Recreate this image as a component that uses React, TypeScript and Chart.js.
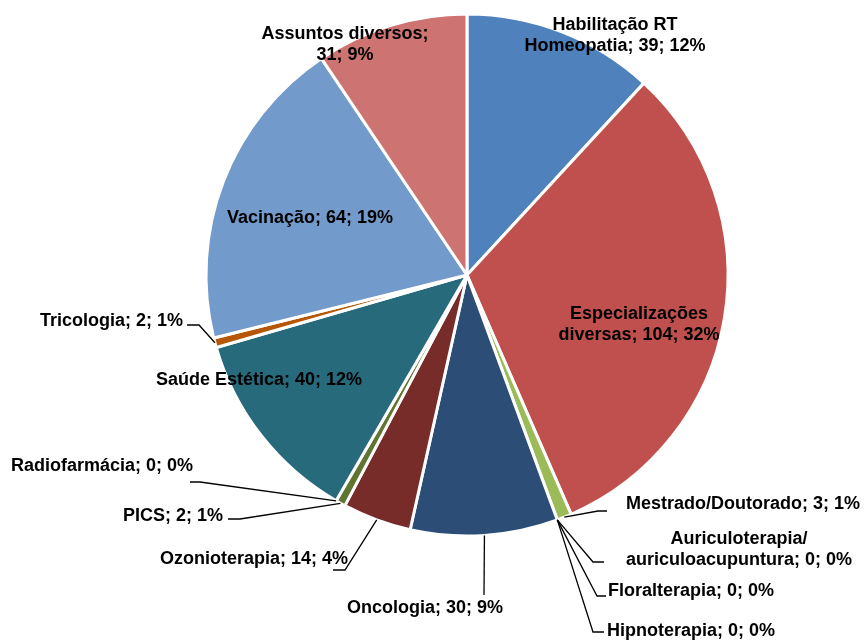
import React, { useEffect, useRef } from "react";
import { Chart, registerables } from "chart.js";

Chart.register(...registerables);

const categories = [
  "Habilitação RT Homeopatia",
  "Especializações diversas",
  "Mestrado/Doutorado",
  "Auriculoterapia/ auriculoacupuntura",
  "Floralterapia",
  "Hipnoterapia",
  "Oncologia",
  "Ozonioterapia",
  "PICS",
  "Radiofarmácia",
  "Saúde Estética",
  "Tricologia",
  "Vacinação",
  "Assuntos diversos",
];
const values = [39, 104, 3, 0, 0, 0, 30, 14, 2, 0, 40, 2, 64, 31];
const percents = ["12%", "32%", "1%", "0%", "0%", "0%", "9%", "4%", "1%", "0%", "12%", "1%", "19%", "9%"];
const colors = [
  "#4F81BD", "#C0504D", "#9BBB59", "#8064A2", "#4BACC6", "#F79646",
  "#2C4D75", "#772C2A", "#5F7530", "#4D3B62", "#276A7C", "#B65708",
  "#729ACA", "#CD7371",
];

// label layout: text lines, anchor, alignment, and leader elbow points (null for inside labels)
type Lab = { lines: string[]; x: number; y: number; align: CanvasTextAlign; leader: number[][] | null };
const labelLayout: Lab[] = [
  { lines: ["Habilitação RT", "Homeopatia; 39; 12%"], x: 615, y: 24, align: "center", leader: null },
  { lines: ["Especializações", "diversas; 104; 32%"], x: 639, y: 313, align: "center", leader: null },
  { lines: ["Mestrado/Doutorado; 3; 1%"], x: 626, y: 503, align: "left", leader: [[598, 511], [607, 511]] },
  { lines: ["Auriculoterapia/", "auriculoacupuntura; 0; 0%"], x: 739, y: 538, align: "center", leader: [[593, 562], [604, 562]] },
  { lines: ["Floralterapia; 0; 0%"], x: 608, y: 590, align: "left", leader: [[597, 596], [606, 596]] },
  { lines: ["Hipnoterapia; 0; 0%"], x: 607, y: 630, align: "left", leader: [[593, 632], [604, 632]] },
  { lines: ["Oncologia; 30; 9%"], x: 425, y: 607, align: "center", leader: [[484, 595]] },
  { lines: ["Ozonioterapia; 14; 4%"], x: 348, y: 558, align: "right", leader: [[345, 570], [333, 570]] },
  { lines: ["PICS; 2; 1%"], x: 223, y: 515, align: "right", leader: [[240, 519], [228, 519]] },
  { lines: ["Radiofarmácia; 0; 0%"], x: 193, y: 465, align: "right", leader: [[200, 482], [190, 482]] },
  { lines: ["Saúde Estética; 40; 12%"], x: 259, y: 379, align: "center", leader: null },
  { lines: ["Tricologia; 2; 1%"], x: 183, y: 320, align: "right", leader: [[199, 325], [187, 325]] },
  { lines: ["Vacinação; 64; 19%"], x: 310, y: 217, align: "center", leader: null },
  { lines: ["Assuntos diversos;", "31; 9%"], x: 345, y: 33, align: "center", leader: null },
];

const FONT = 'bold 18px "Liberation Sans", Arial, sans-serif';

const labelPlugin = {
  id: "pieLabels",
  afterDatasetsDraw(chart: any) {
    const ctx: CanvasRenderingContext2D = chart.ctx;
    const meta = chart.getDatasetMeta(0);
    ctx.save();
    ctx.font = FONT;
    ctx.fillStyle = "#000";
    ctx.textBaseline = "middle";
    meta.data.forEach((arc: any, i: number) => {
      const lab = labelLayout[i];
      const { x, y, startAngle, endAngle, outerRadius } = arc.getProps(
        ["x", "y", "startAngle", "endAngle", "outerRadius"], true
      );
      if (lab.leader) {
        const mid = (startAngle + endAngle) / 2;
        const sx = x + Math.cos(mid) * outerRadius;
        const sy = y + Math.sin(mid) * outerRadius;
        ctx.beginPath();
        ctx.strokeStyle = "#000";
        ctx.lineWidth = 1.3;
        ctx.moveTo(sx, sy);
        lab.leader.forEach((p) => ctx.lineTo(p[0], p[1]));
        ctx.stroke();
      }
      ctx.textAlign = lab.align;
      lab.lines.forEach((t, k) => ctx.fillText(t, lab.x, lab.y + 1 + k * 21));
    });
    ctx.restore();
  },
};

export default function App() {
  const ref = useRef<HTMLCanvasElement>(null);
  useEffect(() => {
    if (!ref.current) return;
    const chart = new Chart(ref.current, {
      type: "pie",
      data: {
        labels: categories,
        datasets: [
          {
            data: values,
            backgroundColor: colors,
            borderColor: "#ffffff",
            borderWidth: 3,
            hoverOffset: 0,
          },
        ],
      },
      options: {
        animation: false,
        responsive: true,
        maintainAspectRatio: false,
        radius: 261,
        layout: { padding: { left: 206, right: 136, top: 14, bottom: 104 } },
        plugins: { legend: { display: false }, tooltip: { enabled: false } },
      } as any,
      plugins: [labelPlugin],
    });
    return () => chart.destroy();
  }, []);
  return (
    <div style={{ position: "absolute", left: 0, top: 0, width: 864, height: 640, background: "#fff" }}>
      <canvas ref={ref} />
    </div>
  );
}
